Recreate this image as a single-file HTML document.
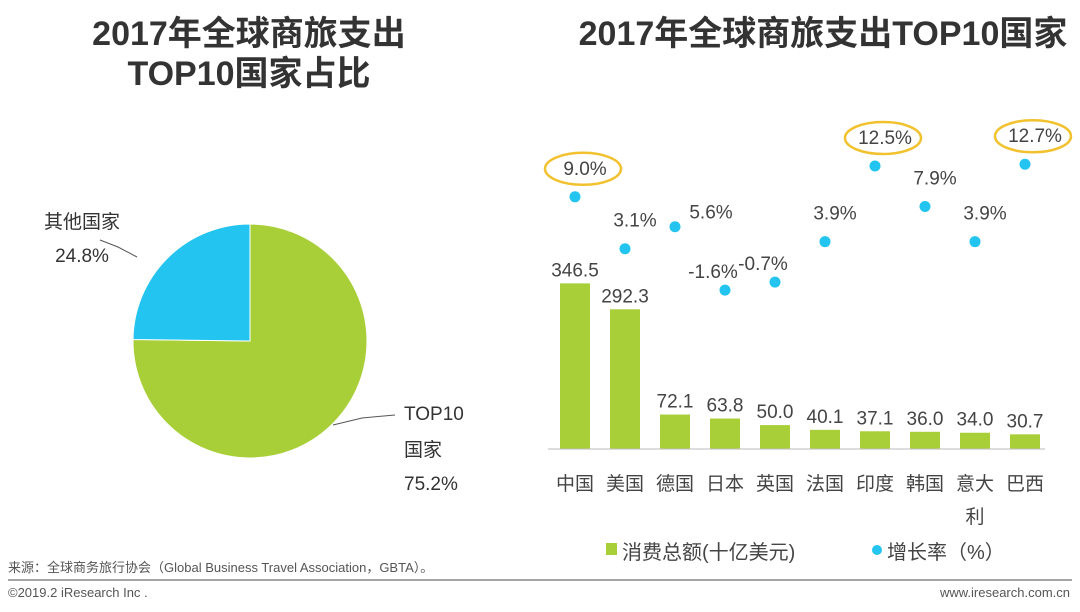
<!DOCTYPE html>
<html><head><meta charset="utf-8"><style>
body{margin:0;width:1080px;height:607px;background:#fff;overflow:hidden;font-family:"Liberation Sans","Noto Sans CJK SC",sans-serif}
svg text{font-family:"Liberation Sans","Noto Sans CJK SC",sans-serif}
</style></head><body>
<svg width="1080" height="607">
<text x="249" y="45" font-size="34" font-weight="bold" fill="#333" text-anchor="middle">2017年全球商旅支出</text>
<text x="249" y="85" font-size="34" font-weight="bold" fill="#333" text-anchor="middle">TOP10国家占比</text>
<text x="823" y="45" font-size="34" font-weight="bold" fill="#333" text-anchor="middle">2017年全球商旅支出TOP10国家</text>
<g id="pie"></g>
<g id="bars"></g>
<line x1="548" y1="449" x2="1045" y2="449" stroke="#bbb" stroke-width="1"/>
<rect x="606" y="543" width="11" height="12" fill="#a8cf38"/>
<text x="622" y="559" font-size="20" fill="#444">消费总额(十亿美元)</text>
<circle cx="877" cy="550" r="5" fill="#23c4f0"/>
<text x="887" y="559" font-size="20" fill="#444">增长率（%）</text>
<text x="8" y="572" font-size="13" fill="#555">来源：全球商务旅行协会（Global Business Travel Association，GBTA）。</text>
<line x1="8" y1="580" x2="1072" y2="580" stroke="#888" stroke-width="1.5"/>
<text x="8" y="597" font-size="13" fill="#555">©2019.2 iResearch Inc .</text>
<text x="1070" y="597" font-size="13" fill="#555" text-anchor="end">www.iresearch.com.cn</text>
</svg>
<script>
const NS="http://www.w3.org/2000/svg";
const pieLabels=["TOP10国家","其他国家"];
const pieValues=[75.2,24.8];
const countries=["中国","美国","德国","日本","英国","法国","印度","韩国","意大利","巴西"];
const spend=[346.5,292.3,72.1,63.8,50.0,40.1,37.1,36.0,34.0,30.7];
const growth=[9.0,3.1,5.6,-1.6,-0.7,3.9,12.5,7.9,3.9,12.7];
const highlighted=[0,6,9];
function mk(tag,attrs,parent){const e=document.createElementNS(NS,tag);for(const k in attrs)e.setAttribute(k,attrs[k]);parent.appendChild(e);return e;}
const pie=document.getElementById('pie');
const cx=250,cy=341,r=117,cols=["#a8cf38","#23c4f0"];
let total=pieValues.reduce((a,b)=>a+b,0),ang=0;
pieValues.forEach((v,i)=>{
 const a0=ang,a1=ang+v/total*2*Math.PI;ang=a1;
 const x0=cx+r*Math.sin(a0),y0=cy-r*Math.cos(a0),x1=cx+r*Math.sin(a1),y1=cy-r*Math.cos(a1);
 const p=mk('path',{d:`M${cx},${cy}L${x0},${y0}A${r},${r} 0 ${a1-a0>Math.PI?1:0} 1 ${x1},${y1}Z`,fill:cols[i],stroke:'#fff','stroke-width':1},pie);
 
 
});
const l1=mk('polyline',{points:"333,425 362,418 395,415",fill:'none',stroke:'#555'},pie);


const l2=mk('polyline',{points:"137,257 118,247 100,240",fill:'none',stroke:'#555'},pie);


[[404,420,"TOP10","start"],[404,456,"国家","start"],[404,490,pieValues[0].toFixed(1)+"%","start"],[82,228,pieLabels[1],"middle"],[82,262,pieValues[1].toFixed(1)+"%","middle"]].forEach((t,i)=>{
 const e=mk('text',{x:t[0],y:t[1],'font-size':19,fill:'#333','text-anchor':t[3]},pie);e.textContent=t[2];
 
 
});
const g=document.getElementById('bars');
const xC=i=>575+i*50, base=449;
const yB=v=>base-v*0.478;
const yG=v=>276-v*8.8;
countries.forEach((c,i)=>{
 const b=mk('rect',{x:xC(i)-15,y:yB(spend[i]),width:30,height:base-yB(spend[i]),fill:'#a8cf38'},g);
 
 
 const t=mk('text',{x:xC(i),y:yB(spend[i])-7,'font-size':19,fill:'#444','text-anchor':'middle'},g);t.textContent=spend[i].toFixed(1);
 
 
 const d=mk('circle',{cx:xC(i),cy:yG(growth[i]),r:5.5,fill:'#23c4f0'},g);
 
 
 let dx=10,dy=22;
 if(i==2){dx=36;dy=8;}
 if(growth[i]<0){dx=-12;dy=12;}
 const gx=xC(i)+dx, gy=yG(growth[i])-dy;
 const p=mk('text',{x:gx,y:gy,'font-size':19,fill:'#444','text-anchor':'middle'},g);p.textContent=growth[i].toFixed(1)+"%";
 
 
 if(highlighted.includes(i)){
  const el=mk('ellipse',{cx:gx-2,cy:gy-6,rx:38,ry:16,fill:'none',stroke:'#f2c12e','stroke-width':2.5},g);
  
  
 }
 const name=c.length>2?[c.slice(0,2),c.slice(2)]:[c];
 name.forEach((s,k)=>{
  const x=mk('text',{x:xC(i),y:490+k*33,'font-size':19,fill:'#444','text-anchor':'middle'},g);x.textContent=s;
  
  
 });
});
</script>
</body></html>
